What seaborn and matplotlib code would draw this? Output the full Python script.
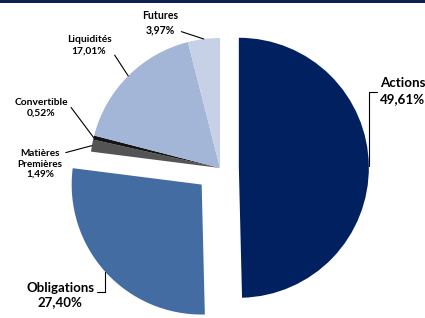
import numpy as np
import matplotlib
matplotlib.use("Agg")
import matplotlib.pyplot as plt
import seaborn as sns
from matplotlib.patches import Rectangle

labels = ["Actions", "Obligations", "Matières\nPremières", "Convertible", "Liquidités", "Futures"]
values = [49.61, 27.40, 1.49, 0.52, 17.01, 3.97]
pct_text = ["49,61%", "27,40%", "1,49%", "0,52%", "17,01%", "3,97%"]
COLORS = ["#002060", "#436ca3", "#545454", "#141414", "#a4b6d7", "#c6d1e7"]
EXPLODE = [0.145, 0.19, 0, 0, 0, 0]

sns.set_style("white")
plt.rcParams["font.family"] = ["Lato", "DejaVu Sans"]
plt.rcParams["font.weight"] = "bold"

W, H = 425, 318
CX, CY, R = 220, 168, 130   # pie centre / radius in pixels


def px(x, y):
    return ((x - CX) / R, (CY - y) / R)


fig = plt.figure(figsize=(W / 100, H / 100), dpi=100)
ax = fig.add_axes([0, 0, 1, 1])
wedges, _ = ax.pie(values, colors=COLORS, explode=EXPLODE, startangle=90,
                   counterclock=False, radius=1, wedgeprops=dict(linewidth=0))
ax.set_xlim(-CX / R, (W - CX) / R)
ax.set_ylim(-(H - CY) / R, CY / R)
ax.set_aspect("equal")
ax.axis("off")

# label centre (pixels), font size, relpos / connection for leader line
label_pos = [(403, 91), (60, 295), (40, 164), (41, 108), (89, 45), (160, 23)]
sizes = [9.6, 9.5, 7.2, 7.4, 7.4, 7.6]
relpos = [(0.0, 0.45), (1.0, 0.6), (1.0, 0.85), (1.0, 0.75), (1.0, 0.25), (1.0, 0.2)]
conn = ["angle,angleA=0,angleB=90,rad=0", "angle,angleA=0,angleB=90,rad=0",
        "arc3", "arc3", "arc3", "arc3"]
spacing = [1.43, 1.2, 1.22, 1.25, 1.35, 1.35]

for w, lab, pc, pos, fs, rp, cs, ls in zip(wedges, labels, pct_text, label_pos,
                                           sizes, relpos, conn, spacing):
    mid = np.deg2rad((w.theta1 + w.theta2) / 2)
    cx, cy = w.center
    xy = (cx + np.cos(mid), cy + np.sin(mid))
    ax.annotate(f"{lab}\n{pc}", xy=xy, xytext=px(*pos), ha="center", va="center",
                fontsize=fs, fontweight="bold", color="black", linespacing=ls,
                arrowprops=dict(arrowstyle="-", color="black", lw=0.8,
                                shrinkA=0, shrinkB=0, relpos=rp,
                                connectionstyle=cs))

fig.patches.append(Rectangle((0, 1 - 3 / H), 1, 3 / H, transform=fig.transFigure,
                             facecolor="#0f2152", edgecolor="none"))

fig.savefig("out.png", dpi=100)
